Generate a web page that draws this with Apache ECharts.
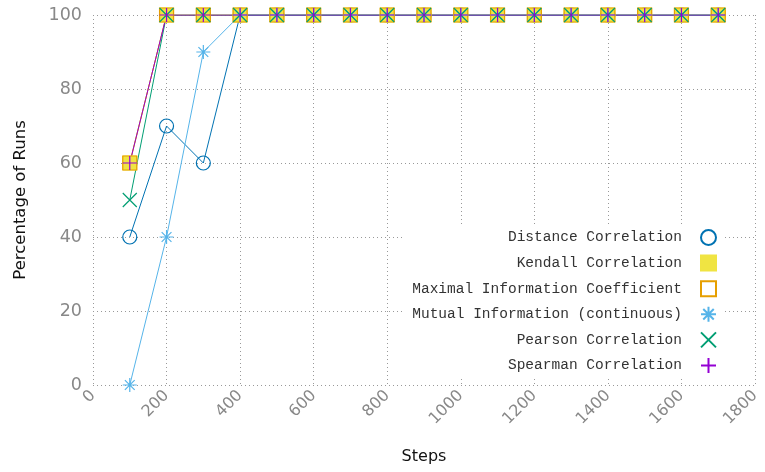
<!DOCTYPE html>
<html>
<head>
<meta charset="utf-8">
<script src="https://cdn.jsdelivr.net/npm/echarts@6/dist/echarts.min.js"></script>
<style>
  html, body { margin: 0; padding: 0; background: #fff; }
  #chart { width: 765px; height: 472px; }
</style>
</head>
<body>
<div id="chart"></div>
<script>
// data
var steps = [100, 200, 300, 400, 500, 600, 700, 800, 900, 1000, 1100, 1200, 1300, 1400, 1500, 1600, 1700];
var distanceCorr = [40, 70, 60, 100, 100, 100, 100, 100, 100, 100, 100, 100, 100, 100, 100, 100, 100];
var kendallCorr = [60, 100, 100, 100, 100, 100, 100, 100, 100, 100, 100, 100, 100, 100, 100, 100, 100];
var micCoef = [60, 100, 100, 100, 100, 100, 100, 100, 100, 100, 100, 100, 100, 100, 100, 100, 100];
var mutualInfo = [0, 40, 90, 100, 100, 100, 100, 100, 100, 100, 100, 100, 100, 100, 100, 100, 100];
var pearsonCorr = [50, 100, 100, 100, 100, 100, 100, 100, 100, 100, 100, 100, 100, 100, 100, 100, 100];
var spearmanCorr = [60, 100, 100, 100, 100, 100, 100, 100, 100, 100, 100, 100, 100, 100, 100, 100, 100];

var names = ['Distance Correlation', 'Kendall Correlation', 'Maximal Information Coefficient',
  'Mutual Information (continuous)', 'Pearson Correlation', 'Spearman Correlation'];

// path symbols (stroke only)
var crossPath = 'path://M0 0L10 10M10 0L0 10';
var plusPath = 'path://M5 0L5 10M0 5L10 5';
var starPath = 'path://M5 0L5 10M0 5L10 5M1.5 1.5L8.5 8.5M8.5 1.5L1.5 8.5';
var symbols = ['circle', 'rect', 'rect', starPath, crossPath, plusPath];

function pairs(vals) {
  return steps.map(function (s, i) { return [s, vals[i]]; });
}

function mkSeries(name, vals, color, symbol, size, filled) {
  return {
    name: name,
    type: 'line',
    data: pairs(vals),
    symbol: symbol,
    symbolSize: size,
    lineStyle: { color: color, width: 1 },
    itemStyle: {
      color: filled ? color : 'rgba(0,0,0,0)',
      borderColor: color,
      borderWidth: filled ? 1 : 1.2
    },
    emphasis: { disabled: true }
  };
}

var chart = echarts.init(document.getElementById('chart'));
chart.setOption({
  animation: false,
  grid: { left: 93, right: 10, top: 15, bottom: 87 },
  legend: {
    orient: 'vertical',
    right: 40,
    top: 225,
    align: 'right',
    itemWidth: 15,
    itemHeight: 15,
    itemGap: 8.6,
    backgroundColor: '#fff',
    padding: [4, 8, 2, 8],
    textStyle: { fontFamily: 'Liberation Mono', fontSize: 14.5, color: '#333', padding: [0, 14, 0, 0] },
    data: names.map(function (n, i) { return { name: n, icon: symbols[i] }; })
  },
  xAxis: {
    type: 'value',
    min: 0,
    max: 1800,
    interval: 200,
    name: 'Steps',
    nameLocation: 'middle',
    nameGap: 64,
    nameTextStyle: { fontFamily: 'DejaVu Sans', fontSize: 16, color: '#111' },
    axisLine: { show: false },
    axisTick: { show: false },
    axisLabel: {
      rotate: 45, color: '#888', fontFamily: 'DejaVu Sans', fontSize: 16, margin: 8,
      formatter: function (v) { return String(v); }
    },
    splitLine: { show: true, lineStyle: { type: [1, 3], color: '#999', width: 1 } }
  },
  yAxis: {
    type: 'value',
    min: 0,
    max: 100,
    interval: 20,
    name: 'Percentage of Runs',
    nameLocation: 'middle',
    nameGap: 64,
    nameTextStyle: { fontFamily: 'DejaVu Sans', fontSize: 16.5, color: '#111' },
    axisLine: { show: false },
    axisTick: { show: false },
    axisLabel: { color: '#888', fontFamily: 'DejaVu Sans', fontSize: 17.5, margin: 11 },
    splitLine: { show: true, lineStyle: { type: [1, 3], color: '#999', width: 1 } }
  },
  series: [
    mkSeries(names[0], distanceCorr, '#0072b2', symbols[0], 14, false),
    mkSeries(names[1], kendallCorr, '#f0e442', symbols[1], 14, true),
    mkSeries(names[2], micCoef, '#e69f00', symbols[2], 14, false),
    mkSeries(names[3], mutualInfo, '#56b4e9', symbols[3], 14, false),
    mkSeries(names[4], pearsonCorr, '#009e73', symbols[4], 14, false),
    mkSeries(names[5], spearmanCorr, '#9400d3', symbols[5], 14, false)
  ]
});
</script>
</body>
</html>
